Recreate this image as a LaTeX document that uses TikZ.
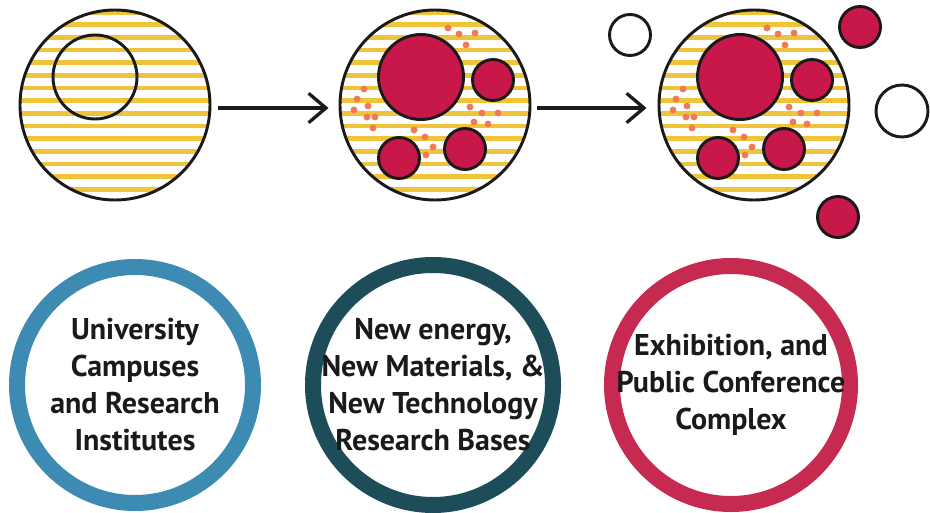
\documentclass[tikz,border=0pt]{standalone}
\usepackage{fontspec}
\setmainfont{PT Sans}
\usetikzlibrary{arrows.meta}
\definecolor{stripe}{HTML}{EFC43A}
\definecolor{berry}{HTML}{C8184A}
\definecolor{dotc}{HTML}{EE7B55}
\definecolor{ringblue}{HTML}{3D8BB2}
\definecolor{ringteal}{HTML}{1E4D5A}
\definecolor{ringred}{HTML}{C62A50}
\definecolor{ink}{HTML}{1A1A1A}
\begin{document}
\begin{tikzpicture}[x=0.75pt,y=-0.75pt,
  outline/.style={circle, draw=ink, line width=2.2pt, inner sep=0pt, minimum size=#1*0.75pt},
  redc/.style={circle, draw=ink, fill=berry, line width=2.2pt, inner sep=0pt, minimum size=#1*0.75pt},
  whitec/.style={circle, draw=ink, fill=white, line width=2.2pt, inner sep=0pt, minimum size=#1*0.75pt},
  dotn/.style={circle, fill=dotc, inner sep=0pt, minimum size=5.2pt},
  stripeline/.style={draw=stripe, line width=3.6pt},
  ring/.style={circle, draw=#1, line width=12pt, inner sep=0pt},
  ringtext/.style={font=\fontsize{22.5}{27.75}\selectfont\bfseries, text=ink, align=center, inner sep=0pt},
  arr/.style={draw=ink, line width=2.5pt, -{Straight Barb[length=13pt, width=22pt, line width=2.5pt]}}
]
\useasboundingbox (0,0) rectangle (930,513);

% ---------- top circles: striped backgrounds ----------
\foreach \cx in {115,435,754}{
  \begin{scope}
    \clip (\cx,105) circle[radius=71.25pt];
    \foreach \k in {-7,...,8}
      \draw[stripeline] (\cx-100,100.7+12.65*\k) -- (\cx+100,100.7+12.65*\k);
  \end{scope}
}

% stage 1
\node[outline=190] (c1) at (115,105) {};
\node[outline=84] (c1in) at (95,77) {};

% stage 2
\node[outline=190] (c2) at (435,105) {};
% stage 3
\node[outline=190] (c3) at (754,105) {};

% dots in stages 2 and 3
\foreach \s/\dx in {a/0,b/319}{
  \foreach \i/\px/\py in {1/448/28,2/459/34,3/475/33,4/466/45,
    5/364/89,6/357/99,7/368/106,8/354/110,9/367/117,10/375/117,11/373/128,
    12/470/107,13/482/113,14/498/113,15/474/122,16/488/124,
    17/414/130,18/425/137,19/433/147,20/426/155}
    \node[dotn] (d\s\i) at (\px+\dx,\py) {};
}

% red circles stage 2
\node[redc=85] (r2big) at (421,77) {};
\node[redc=41] (r2tr) at (493,80) {};
\node[redc=41] (r2bl) at (399,158) {};
\node[redc=41] (r2br) at (465,149) {};
% red circles stage 3
\node[redc=85] (r3big) at (740,77) {};
\node[redc=41] (r3tr) at (812,80) {};
\node[redc=41] (r3bl) at (718,158) {};
\node[redc=41] (r3br) at (784,149) {};

% outside circles stage 3
\node[whitec=41] (o1) at (630,35) {};
\node[redc=41] (o2) at (860,27) {};
\node[whitec=52] (o3) at (902,111) {};
\node[redc=41] (o4) at (838,217) {};

% arrows
\draw[arr] ([shift={(7,3)}]c1.east) -- ([shift={(-10,3)}]c2.west);
\draw[arr] ([shift={(6,3)}]c2.east) -- ([shift={(-11,3)}]c3.west);

% ---------- bottom rings ----------
\node[ring=ringblue, minimum size=236*0.75pt] (b1) at (135,385) {};
\node[ring=ringteal, minimum size=240*0.75pt] (b2) at (433,385) {};
\node[ring=ringred, minimum size=238*0.75pt] (b3) at (731,385) {};

\node[ringtext] (t1) at (b1.center) {University\\Campuses\\and Research\\Institutes};
\node[ringtext] (t2) at (b2.center) {New energy,\\New Materials, \&\\New Technology\\Research Bases};
\node[ringtext] (t3) at (b3.center) {Exhibition, and\\Public Conference\\Complex};
\end{tikzpicture}
\end{document}
